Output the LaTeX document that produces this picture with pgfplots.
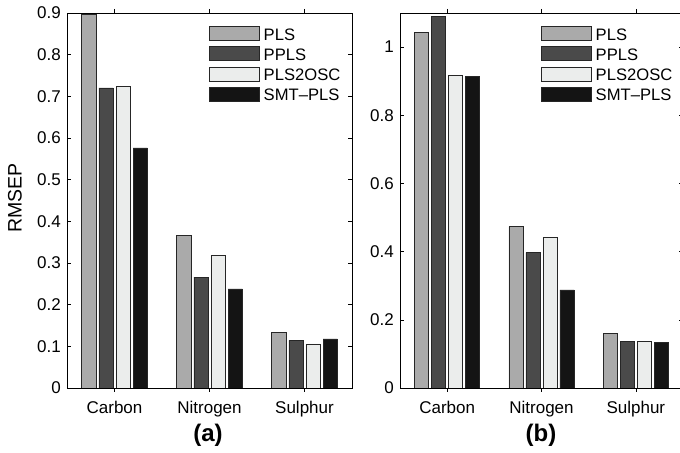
\documentclass[border=0pt]{standalone}
\usepackage{fontspec}
\setmainfont{Liberation Sans}
\usepackage{pgfplots}
\pgfplotsset{compat=1.18}
\definecolor{cPLS}{HTML}{AAAAAA}
\definecolor{cPPLS}{HTML}{4A4A4A}
\definecolor{cOSC}{HTML}{EBEDEC}
\definecolor{cSMT}{HTML}{141414}
\pgfplotsset{
  panel/.style={
    scale only axis, height=375bp,
    xmin=0.5, xmax=3.5, ymin=0,
    xtick={1,2,3}, xticklabels={Carbon,Nitrogen,Sulphur},
    tick align=inside, major tick length=4bp,
    xtick pos=both, ytick pos=both,
    axis line style={line width=0.8bp, black},
    every tick/.style={black, line width=0.6bp},
    ybar, bar width=0.15,
    /pgfplots/legend image code/.code={\draw[##1, line width=0.6bp] (0bp,-6bp) rectangle (50bp,8bp); \path (54bp,0bp);},
    tick label style={font=\fontsize{17bp}{20bp}\selectfont},
    /pgf/number format/assume math mode=true,
    xticklabel style={inner sep=0pt, yshift=-9bp},
    yticklabel style={inner sep=0pt, xshift=-6bp},
    legend style={at={(0.498,0.965)}, anchor=north west, draw=none, fill=none,
      inner sep=0pt, row sep=4.8bp, font=\fontsize{16.6bp}{19bp}\selectfont,
      nodes={inner sep=0pt, text height=12.5bp, text depth=1.5bp}},
    legend cell align=left,
  },
  b1/.style={fill=cPLS, draw=black!85, line width=0.6bp, bar shift=-0.27},
  b2/.style={fill=cPPLS, draw=black!85, line width=0.6bp, bar shift=-0.09},
  b3/.style={fill=cOSC, draw=black!85, line width=0.6bp, bar shift=0.09},
  b4/.style={fill=cSMT, draw=black!85, line width=0.6bp, bar shift=0.27},
}
\begin{document}
\begin{tikzpicture}[x=1bp,y=1bp]
\path[use as bounding box] (0,0) rectangle (680,453);
\begin{axis}[panel, at={(67bp,65bp)}, anchor=south west, width=285bp,
  ymax=0.9, ytick={0,0.1,0.2,0.3,0.4,0.5,0.6,0.7,0.8,0.9}]
\addplot[b1] coordinates {(1,0.896) (2,0.367) (3,0.134)};
\addplot[b2] coordinates {(1,0.720) (2,0.266) (3,0.114)};
\addplot[b3] coordinates {(1,0.723) (2,0.319) (3,0.106)};
\addplot[b4] coordinates {(1,0.576) (2,0.238) (3,0.118)};
\legend{PLS,PPLS,PLS2OSC,SMT\textendash PLS}
\end{axis}
\begin{axis}[panel, at={(400bp,65bp)}, anchor=south west, width=283bp,
  ymax=1.1, ytick={0,0.2,0.4,0.6,0.8,1}]
\addplot[b1] coordinates {(1,1.042) (2,0.473) (3,0.161)};
\addplot[b2] coordinates {(1,1.089) (2,0.397) (3,0.137)};
\addplot[b3] coordinates {(1,0.918) (2,0.442) (3,0.136)};
\addplot[b4] coordinates {(1,0.913) (2,0.288) (3,0.134)};
\legend{PLS,PPLS,PLS2OSC,SMT\textendash PLS}
\end{axis}
\node[rotate=90, font=\fontsize{19.5bp}{23bp}\selectfont] at (15,255) {RMSEP};
\node[font=\fontsize{24bp}{28bp}\selectfont\bfseries] at (208,18) {(a)};
\node[font=\fontsize{24bp}{28bp}\selectfont\bfseries] at (541,18) {(b)};
\end{tikzpicture}
\end{document}
